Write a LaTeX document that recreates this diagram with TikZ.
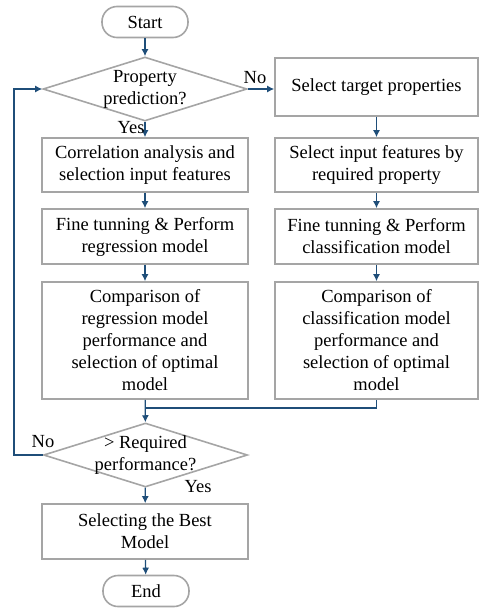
\documentclass[tikz,border=0pt]{standalone}
\usepackage{fontspec}
\setmainfont{Liberation Serif}
\usepackage{xcolor}
\usetikzlibrary{positioning,arrows.meta,shapes.geometric,calc}
\definecolor{flowblue}{RGB}{31,78,121}
\definecolor{boxgray}{RGB}{165,165,165}

\begin{document}
\begin{tikzpicture}[
    x=1pt,y=-1pt,
    font=\fontsize{18.5}{22}\selectfont,
    box/.style={draw=boxgray,line width=1.6pt,minimum height=54pt,align=center,inner sep=2pt},
    term/.style={draw=boxgray,line width=1.6pt,rounded corners=15pt,minimum width=86pt,minimum height=31pt,inner sep=0pt},
    decision/.style={draw=boxgray,line width=1.6pt,diamond,inner sep=0pt,minimum width=204pt,minimum height=64pt},
    arr/.style={-{Latex[length=7pt,width=7pt]},draw=flowblue,line width=1.3pt},
    link/.style={draw=flowblue,line width=1.3pt},
    lbl/.style={inner sep=0pt}
  ]
    \useasboundingbox (0,0) rectangle (479,611);

    \node[term] (start) at (145,22) {Start};
    \node[decision] (dec1) at (145,89) {};
    \node[lbl,align=center] (dec1txt) at (dec1) {Property\\prediction?};

    \node[box,minimum width=203pt,minimum height=58pt] (target) at (376.5,87) {Select target properties};

    \node[box,minimum width=206pt] (corr) at (145,165) {Correlation analysis and\\selection input features};
    \node[box,minimum width=206pt,minimum height=55pt] (fineL) at (145,236.5) {Fine tunning \& Perform\\regression model};
    \node[box,minimum width=206pt,minimum height=117pt] (cmpL) at (145,340.5) {Comparison of\\regression model\\performance and\\selection of optimal\\model};

    \node[box,minimum width=203pt] (feat) at (376.5,165) {Select input features by\\required property};
    \node[box,minimum width=203pt,minimum height=55pt] (fineR) at (376.5,236.5) {Fine tunning \& Perform\\classification model};
    \node[box,minimum width=203pt,minimum height=117pt] (cmpR) at (376.5,340.5) {Comparison of\\classification model\\performance and\\selection of optimal\\model};

    \node[decision] (dec2) at (145.5,455) {};
    \node[lbl,align=center] (dec2txt) at (dec2) {> Required\\performance?};

    \node[box,minimum width=206pt,minimum height=55pt] (best) at (145,531.5) {Selecting the Best\\Model};
    \node[term] (end) at (146,591) {End};

    \coordinate (merge) at (145,408);
    \coordinate (loop) at (14,455);

    % main column
    \draw[arr] (start) -- (dec1);
    \draw[arr] (dec1) -- (corr);
    \draw[arr] (corr) -- (fineL);
    \draw[arr] (fineL) -- (cmpL);
    \draw[arr] (cmpL) -- (dec2);
    \draw[arr] (dec2) -- (best);
    \draw[arr] (best) -- (end);

    % classification branch
    \draw[arr] (dec1.east) -- (dec1.east -| target.west);
    \draw[arr] (target) -- (feat);
    \draw[arr] (feat) -- (fineR);
    \draw[arr] (fineR) -- (cmpR);
    \draw[link] (cmpR.south) |- (merge);

    % back to the start
    \draw[arr] (dec2.west) -- (loop) |- (dec1.west);

    \node[lbl] (no1) at (255,78) {No};
    \node[lbl] (yes1) at (131,128) {Yes};
    \node[lbl] (no2) at (43,442) {No};
    \node[lbl] (yes2) at (198,487) {Yes};
  \end{tikzpicture}
\end{document}
